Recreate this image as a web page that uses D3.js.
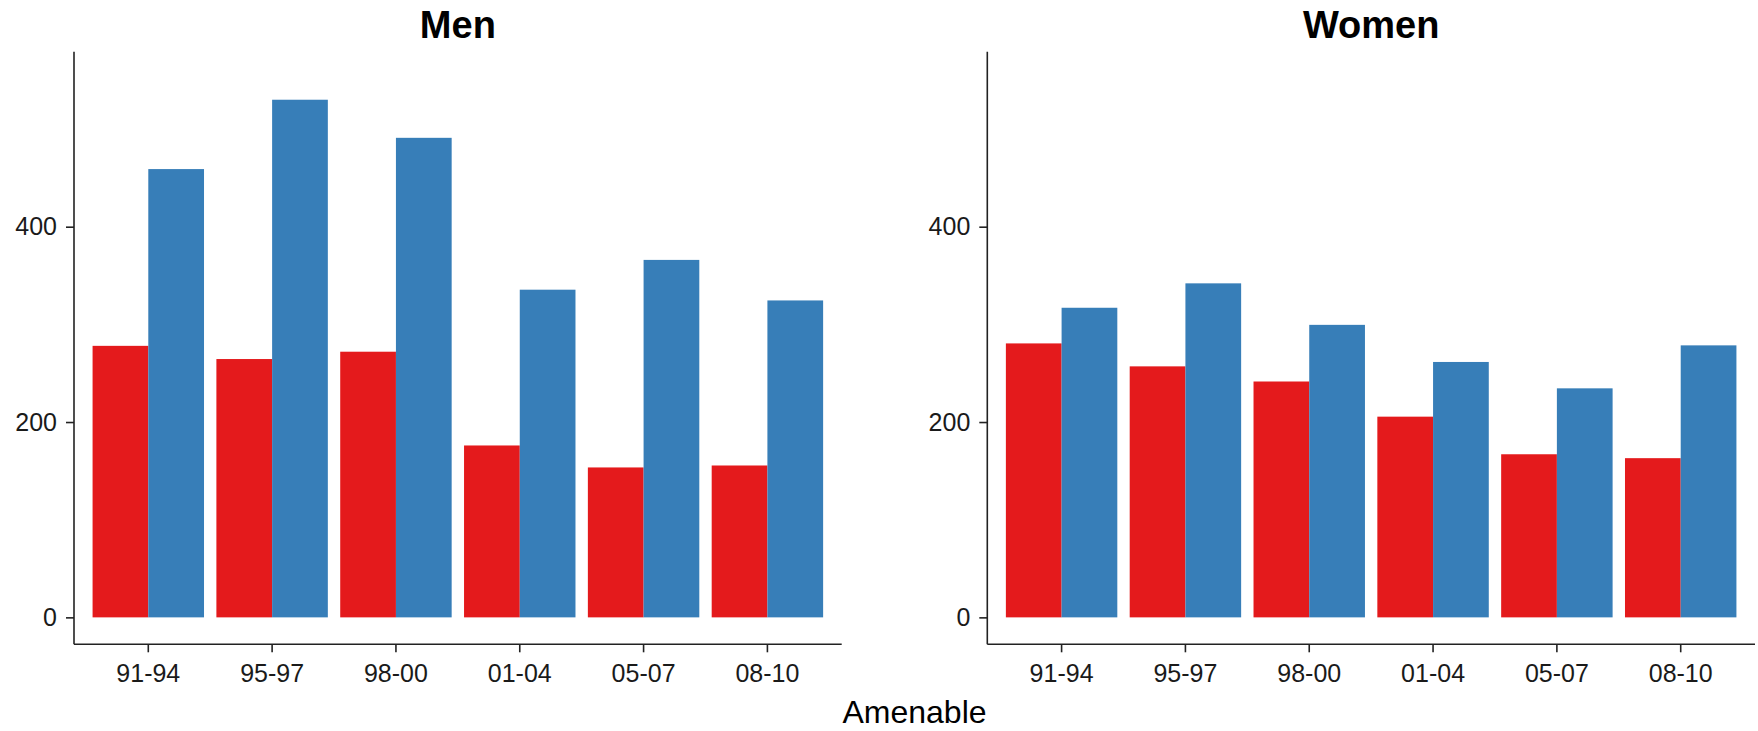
<!DOCTYPE html>
<html>
<head>
<meta charset="utf-8">
<script src="https://cdn.jsdelivr.net/npm/d3@7"></script>
<style>
  html, body { margin: 0; padding: 0; background: #fff; }
  svg { display: block; font-family: "Liberation Sans", Arial, sans-serif; }
</style>
</head>
<body>
<div id="chart"></div>
<script>
const periods = ['91-94', '95-97', '98-00', '01-04', '05-07', '08-10'];
const seriesKeys = ['a', 'b'];
const seriesColors = ['#E41A1C', '#377EB8'];

const menA = [278, 264.5, 272, 176, 153.5, 155.5];
const menB = [459, 530, 491, 335.5, 366, 324.5];
const womenA = [280.5, 257, 241.5, 205.5, 167, 163];
const womenB = [317, 342, 299.5, 261.5, 234.5, 278.5];

const yTicks = [0, 200, 400];
const yLimits = [0, 551.6];
const xTitle = 'Amenable';

const panels = [
    { title: 'Men', a: menA, b: menB },
    { title: 'Women', a: womenA, b: womenB }
];

const width = 1758;
const height = 731;
const panelTop = 51.7;
const panelBottom = 644.3;
const panelLefts = [74, 987.3];
const panelWidth = 767.7;

const svg = d3.select('#chart')
    .append('svg')
    .attr('width', width)
    .attr('height', height);

// ggplot-style 5% expansion on the continuous axis
const span = yLimits[1] - yLimits[0];
const y = d3.scaleLinear()
    .domain([yLimits[0] - span * 0.05, yLimits[1] + span * 0.05])
    .range([panelBottom, panelTop]);

panels.forEach((panel, i) => {
    const left = panelLefts[i];
    const right = left + panelWidth;

    const x = d3.scaleBand()
        .domain(periods)
        .range([left, right])
        .paddingInner(0.1)
        .paddingOuter(0.15);

    const xSub = d3.scaleBand()
        .domain(seriesKeys)
        .range([0, x.bandwidth()]);

    const color = d3.scaleOrdinal().domain(seriesKeys).range(seriesColors);

    const rows = periods.map((p, j) => ({ period: p, a: panel.a[j], b: panel.b[j] }));

    const g = svg.append('g');

    g.selectAll('g.group')
        .data(rows)
        .join('g')
        .attr('class', 'group')
        .attr('transform', d => 'translate(' + x(d.period) + ',0)')
        .selectAll('rect')
        .data(d => seriesKeys.map(k => ({ key: k, value: d[k] })))
        .join('rect')
        .attr('x', d => xSub(d.key))
        .attr('width', xSub.bandwidth())
        .attr('y', d => y(d.value))
        .attr('height', d => y(0) - y(d.value))
        .attr('fill', d => color(d.key));

    const xAxis = g.append('g')
        .attr('transform', 'translate(0,' + panelBottom + ')')
        .call(d3.axisBottom(x).tickSizeOuter(0).tickSize(8).tickPadding(12));

    const yAxis = g.append('g')
        .attr('transform', 'translate(' + left + ',0)')
        .call(d3.axisLeft(y).tickValues(yTicks).tickSizeOuter(0).tickSize(8).tickPadding(9));

    [xAxis, yAxis].forEach(ax => {
        ax.select('.domain').attr('stroke', '#222').attr('stroke-width', 1.6);
        ax.selectAll('.tick line').attr('stroke', '#222').attr('stroke-width', 1.6);
        ax.selectAll('.tick text')
            .attr('fill', '#1a1a1a')
            .style('font-size', '25px')
            .style('font-family', '"Liberation Sans", Arial, sans-serif');
    });

    // full-height y axis line and full-width x axis line
    yAxis.select('.domain').attr('d', 'M0,' + panelTop + 'V' + panelBottom);
    xAxis.select('.domain').attr('d', 'M' + left + ',0H' + right);

    g.append('text')
        .attr('x', (left + right) / 2)
        .attr('y', 37.5)
        .attr('text-anchor', 'middle')
        .style('font-size', '38px')
        .style('font-weight', 'bold')
        .attr('fill', '#000')
        .text(panel.title);
});

svg.append('text')
    .attr('x', (panelLefts[0] + panelLefts[1] + panelWidth) / 2)
    .attr('y', 723)
    .attr('text-anchor', 'middle')
    .style('font-size', '32px')
    .attr('fill', '#000')
    .text(xTitle);
</script>
</body>
</html>
